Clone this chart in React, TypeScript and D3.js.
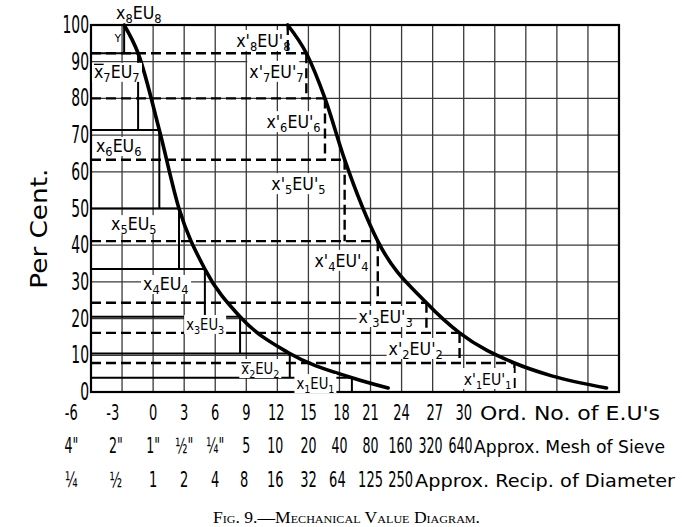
import React from 'react';
import * as d3 from 'd3';

// ---------- data ----------
const yTicks = [0, 10, 20, 30, 40, 50, 60, 70, 80, 90, 100];
const xGridValues = [-6, -3, 0, 3, 6, 9, 12, 15, 18, 21, 24, 27, 30, 33, 36, 39, 42, 45];

const ordLabels = ['-6', '-3', '0', '3', '6', '9', '12', '15', '18', '21', '24', '27', '30'];
const ordPos = [-7.9, -3.9, 0, 3, 6, 9, 11.9, 15, 18.2, 21, 24, 27.2, 30];
const meshLabels = ['4"', '2"', '1"', '½"', '¼"', '5', '10', '20', '40', '80', '160', '320', '640'];
const meshPos = [-7.9, -3.6, 0, 3, 6, 9, 11.8, 15, 18, 21, 23.9, 26.8, 29.7];
const recipLabels = ['¼', '½', '1', '2', '4', '8', '16', '32', '64', '125', '250'];
const recipPos = [-7.9, -3.6, 0, 3, 6, 8.8, 11.8, 15, 17.8, 21, 23.9];

// fine-material curve (solid boxes)
const leftCurveX = [-2.8, -1.45, 0.6, 2.5, 5.0, 8.4, 13.2, 19.2, 22.7];
const leftCurveY = [100, 92.3, 71.4, 50, 33.5, 20.5, 10.5, 3.9, 1.1];
// coarse-material curve (dashed boxes)
const rightCurveX = [13, 14.8, 16.6, 18.5, 21.7, 26.4, 29.6, 34.9, 38.5, 43.8];
const rightCurveY = [100, 92.3, 80, 63.3, 41.1, 24.3, 16.1, 7.9, 4.4, 1.1];

// step boxes
const leftLevels = [100, 92.3, 71.4, 50, 33.5, 20.5, 10.5, 3.9, 0];
const leftStepX = [-2.8, -1.45, 0.6, 2.5, 5.0, 8.4, 13.2, 19.2];
const rightLevels = [100, 92.3, 80, 63.3, 41.1, 24.3, 16.1, 7.9, 0];
const rightStepX = [13, 14.8, 16.6, 18.5, 21.7, 26.4, 29.6, 34.9];

// box labels (index n = 8..1), anchor in data units (left, baseline)
const leftLabelN = [8, 7, 6, 5, 4, 3, 2, 1];
const leftLabelX = [-3.58, -5.71, -5.52, -4.06, -0.97, 3.19, 8.52, 13.84];
const leftLabelY = [101.6, 85.6, 65.4, 44.1, 27.8, 16.9, 4.9, 0.8];
const leftLabelBar = [false, true, false, false, false, false, true, false];
const rightLabelN = [8, 7, 6, 5, 4, 3, 2, 1];
const rightLabelX = [8.03, 9.29, 10.94, 11.42, 15.58, 19.84, 22.74, 30.0];
const rightLabelY = [94.0, 85.6, 71.9, 55.0, 34.1, 18.8, 10.1, 1.9];

// ---------- layout ----------
const W = 682;
const H = 527;
const x = d3.scaleLinear().domain([-6, 45]).range([91, 619]);
const y = d3.scaleLinear().domain([0, 100]).range([392, 25]);

const HAND = "'DejaVu Sans', sans-serif";

const line = d3
  .line<[number, number]>()
  .x((d) => x(d[0]))
  .y((d) => y(d[1]))
  .curve(d3.curveMonotoneX);

function NText({ px, py, size, anchor, sx, children }: { px: number; py: number; size: number; anchor?: string; sx: number; children: React.ReactNode }) {
  return (
    <text transform={`translate(${px},${py}) scale(${sx},1)`} fontFamily={HAND} fontSize={size} textAnchor={anchor || 'middle'} fill="#000">
      {children}
    </text>
  );
}

function EuLabel({ px, py, n, prime, bar, size }: { px: number; py: number; n: number; prime: boolean; bar?: boolean; size: number }) {
  const sub = Math.round(size * 0.7);
  return (
    <g transform={`translate(${px},${py}) scale(0.88,1)`}>
      <text x={0} y={0} fontFamily={HAND} fontSize={size} fill="#000">
        <tspan>x</tspan>
        {prime && <tspan>'</tspan>}
        <tspan fontSize={sub} dy={4}>{n}</tspan>
        <tspan dy={-4}>EU</tspan>
        {prime && <tspan>'</tspan>}
        <tspan fontSize={sub} dy={4}>{n}</tspan>
      </text>
      {bar && <line x1={0} x2={11} y1={-size * 0.75} y2={-size * 0.75} stroke="#000" strokeWidth={1.3} />}
    </g>
  );
}

export default function App() {
  const leftPts: [number, number][] = leftCurveX.map((v, i) => [v, leftCurveY[i]]);
  const rightPts: [number, number][] = rightCurveX.map((v, i) => [v, rightCurveY[i]]);

  return (
    <svg width={W} height={H} style={{ position: 'absolute', left: 0, top: 0, background: '#fff' }}>
      <rect width={W} height={H} fill="#fff" />
      {/* grid */}
      {xGridValues.map((v) => (
        <line key={'gx' + v} x1={x(v)} x2={x(v)} y1={y(100)} y2={y(0)} stroke="#3a3a3a" strokeWidth={1.3} />
      ))}
      {yTicks.map((v) => (
        <line key={'gy' + v} x1={x(-6)} x2={x(45)} y1={y(v)} y2={y(v)} stroke="#3a3a3a" strokeWidth={1.3} />
      ))}
      {/* frame */}
      <rect x={x(-6)} y={y(100)} width={x(45) - x(-6)} height={y(0) - y(100)} fill="none" stroke="#000" strokeWidth={2.2} />

      {/* solid step boxes */}
      {leftStepX.map((sx, i) => (
        <g key={'ls' + i}>
          {i > 0 && (
            <line x1={x(-6)} x2={x(sx)} y1={y(leftLevels[i])} y2={y(leftLevels[i])} stroke="#000" strokeWidth={2} />
          )}
          <line x1={x(sx)} x2={x(sx)} y1={y(leftLevels[i])} y2={y(leftLevels[i + 1])} stroke="#000" strokeWidth={2} />
        </g>
      ))}

      {/* dashed step boxes */}
      {rightStepX.map((sx, i) => (
        <g key={'rs' + i}>
          {i > 0 && (
            <line x1={x(-6)} x2={x(sx)} y1={y(rightLevels[i])} y2={y(rightLevels[i])} stroke="#000" strokeWidth={2.4} strokeDasharray="10,5" />
          )}
          <line x1={x(sx)} x2={x(sx)} y1={y(rightLevels[i])} y2={y(rightLevels[i + 1])} stroke="#000" strokeWidth={2.4} strokeDasharray="10,5" />
        </g>
      ))}

      {/* curves */}
      <path d={line(leftPts) || ''} fill="none" stroke="#000" strokeWidth={3.6} strokeLinecap="round" />
      <path d={line(rightPts) || ''} fill="none" stroke="#000" strokeWidth={3.6} strokeLinecap="round" />

      {/* box labels */}
      {leftLabelN.map((n, i) => (
        <rect key={'lb' + n} x={x(leftLabelX[i]) - 2} y={y(leftLabelY[i]) - 15} width={n <= 3 ? 42 : 50} height={19} fill="#fff" />
      ))}
      {rightLabelN.map((n, i) => (
        <rect key={'rb' + n} x={x(rightLabelX[i]) - 2} y={y(rightLabelY[i]) - 17} width={52} height={21} fill="#fff" />
      ))}
      {leftLabelN.map((n, i) => (
        <EuLabel key={'ll' + n} px={x(leftLabelX[i])} py={y(leftLabelY[i])} n={n} prime={false} bar={leftLabelBar[i]} size={n <= 3 ? 15 : 18} />
      ))}
      {rightLabelN.map((n, i) => (
        <EuLabel key={'rl' + n} px={x(rightLabelX[i])} py={y(rightLabelY[i])} n={n} prime={true} size={n === 1 ? 16 : 18} />
      ))}
      <text x={x(-3.4)} y={y(95.5)} fontFamily={HAND} fontSize={11} textAnchor="middle">Y</text>

      {/* y tick labels */}
      {yTicks.map((v) => (
        <NText key={'yt' + v} px={x(-6) - 2} py={y(v) + 8} size={24} sx={0.58} anchor="end">{v}</NText>
      ))}
      <text transform={`translate(47,${y(44.5)}) rotate(-90)`} fontFamily={HAND} fontSize={23} textAnchor="middle" textLength={120} lengthAdjust="spacingAndGlyphs">Per Cent.</text>

      {/* x label rows */}
      {ordLabels.map((t, i) => (
        <NText key={'o' + i} px={x(ordPos[i])} py={420} size={21} sx={0.62}>{t}</NText>
      ))}
      <text x={480} y={420} fontFamily={HAND} fontSize={19} textLength={180} lengthAdjust="spacingAndGlyphs">Ord. No. of E.U's</text>
      {meshLabels.map((t, i) => (
        <NText key={'m' + i} px={x(meshPos[i])} py={453} size={21} sx={0.6}>{t}</NText>
      ))}
      <text x={474} y={453} fontFamily={HAND} fontSize={17} textLength={191} lengthAdjust="spacingAndGlyphs">Approx. Mesh of Sieve</text>
      {recipLabels.map((t, i) => (
        <NText key={'r' + i} px={x(recipPos[i])} py={487} size={21} sx={0.62}>{t}</NText>
      ))}
      <text x={415} y={487} fontFamily={HAND} fontSize={18} textLength={260} lengthAdjust="spacingAndGlyphs">Approx. Recip. of Diameter</text>

      {/* caption */}
      <text x={213} y={523} fontFamily="'Liberation Serif', 'DejaVu Serif', serif" fontSize={16} style={{ fontVariant: 'small-caps' }} textLength={267} lengthAdjust="spacingAndGlyphs">
        Fig. 9.—Mechanical Value Diagram.
      </text>
    </svg>
  );
}
